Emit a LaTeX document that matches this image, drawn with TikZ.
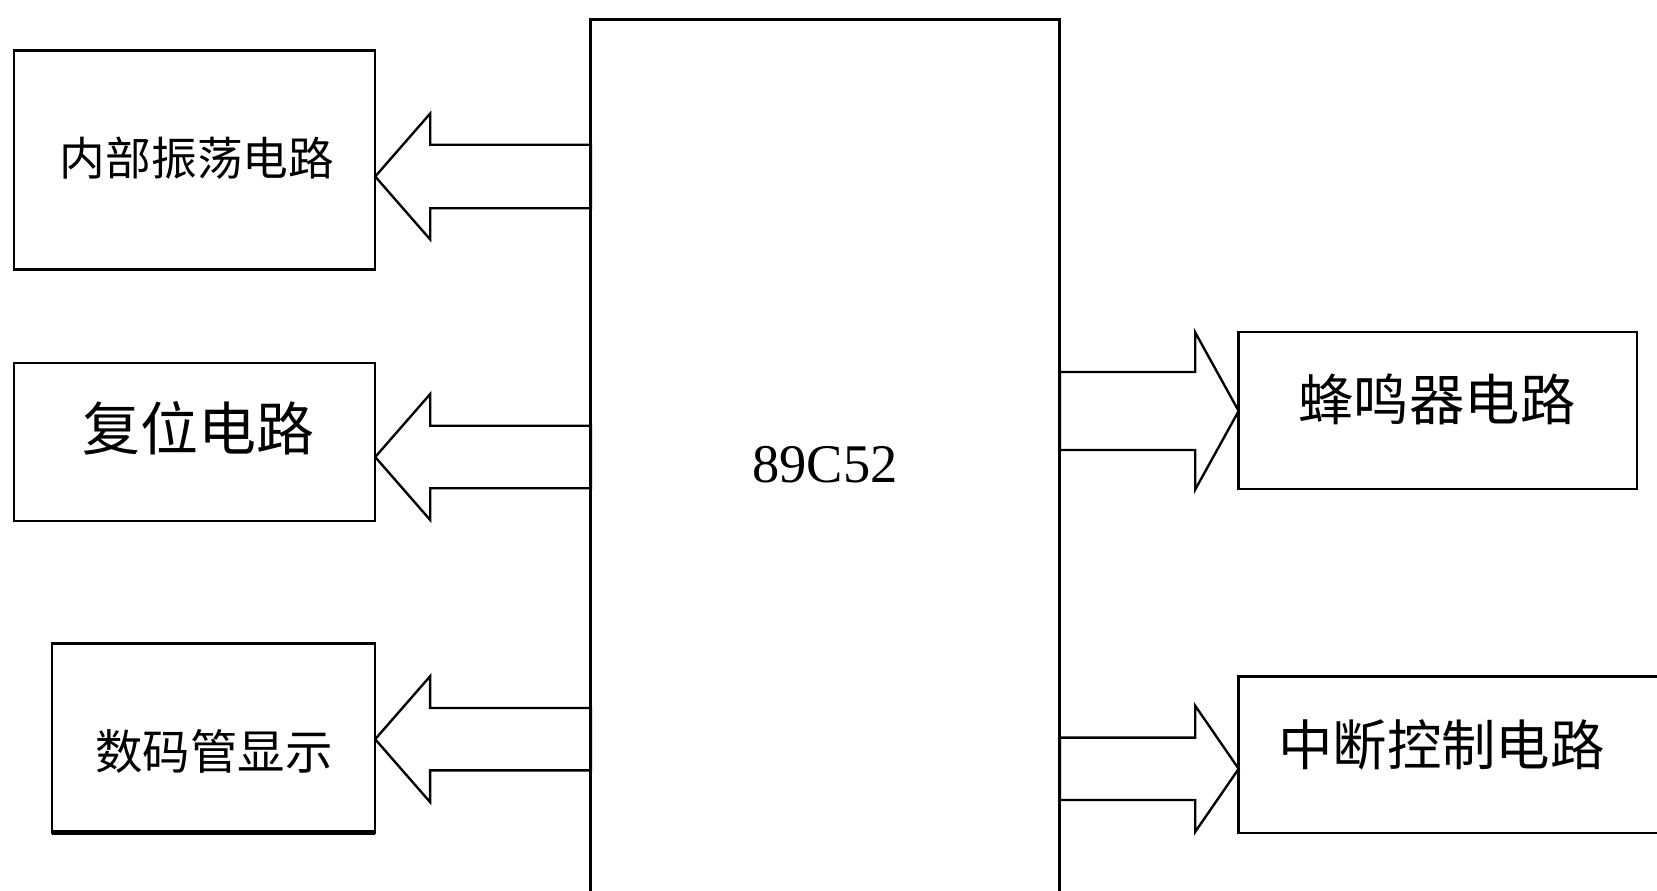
\documentclass[tikz,border=0pt]{standalone}
\usepackage{fontspec}
\setmainfont{Liberation Serif}
\newfontfamily\cjk{Noto Sans CJK SC}
\usetikzlibrary{calc}

\begin{document}
\begin{tikzpicture}[x=0.02cm,y=-0.02cm,
    blk/.style={draw,line width=1.35pt,inner sep=0pt,outer sep=0pt},
    fat/.style={draw,line width=1.35pt,line join=miter},
    lbl/.style={inner sep=0pt,font=\cjk\fontsize{#1}{#1}\selectfont}]
  \useasboundingbox (0,0) rectangle (1657,890);
  % blocks
  \node[blk,line width=1.7pt,minimum width=9.38cm,minimum height=18.82cm] (mcu) at (825.4,489.5) {};
  \node[blk,minimum width=7.23cm,minimum height=4.376cm] (osc) at (194.5,160) {};
  \node[blk,minimum width=7.23cm,minimum height=3.15cm] (reset) at (194.5,442) {};
  \node[blk,minimum width=6.468cm,minimum height=3.78cm] (disp) at (213.5,738) {};
  \node[blk,minimum width=7.968cm,minimum height=3.15cm] (buzz) at (1437.8,410.5) {};
  \node[blk,minimum width=8.828cm,minimum height=3.128cm] (intr) at (1459.3,754.6) {};
  \draw[line width=2.4pt] (disp.south west) -- (disp.south east);
  % texts
  \node[inner sep=0pt,font=\fontsize{31}{31}\selectfont] (mcutext) at (825,465) {89C52};
  \node[lbl=26] (osctext) at (197,158.5) {内部振荡电路};
  \node[lbl=33] (resettext) at (198.5,428) {复位电路};
  \node[lbl=27] (disptext) at (214,751) {数码管显示};
  \node[lbl=31.5] (buzztext) at (1437,399.5) {蜂鸣器电路};
  \node[lbl=31] (intrtext) at (1441.5,745) {中断控制电路};
  % fat arrows
  \foreach \s/\t/\yy/\w/\h/\l in {mcu.west/osc.east/176.5/31.7/63/55,mcu.west/reset.east/457/31.2/63/55,mcu.west/disp.east/739.2/31.2/63/55,mcu.east/buzz.west/411/39/78.5/-43.4,mcu.east/intr.west/768.8/31.2/63/-43.4}
    \draw[fat] ($(\s |- 0,\yy)+(0,-\w)$) -- ($(\t |- 0,\yy)+(\l,-\w)$) -- ($(\t |- 0,\yy)+(\l,-\h)$) -- (\t |- 0,\yy) -- ($(\t |- 0,\yy)+(\l,\h)$) -- ($(\t |- 0,\yy)+(\l,\w)$) -- ($(\s |- 0,\yy)+(0,\w)$) -- cycle;
\end{tikzpicture}
\end{document}
